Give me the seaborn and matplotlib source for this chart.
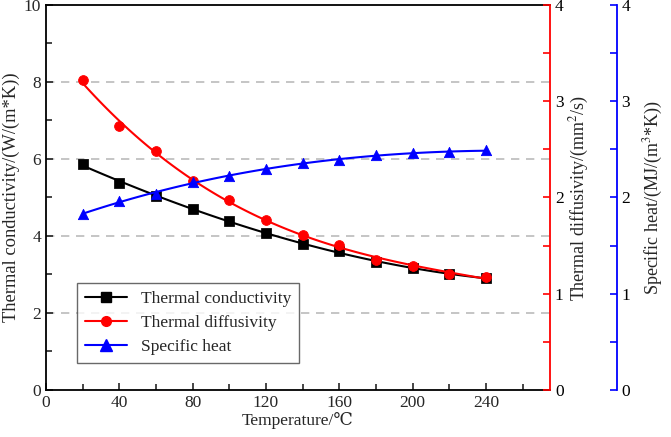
import numpy as np
import pandas as pd
import seaborn as sns
import matplotlib.pyplot as plt
from matplotlib.lines import Line2D
from matplotlib.ticker import MultipleLocator

# Values
temperature = [20, 40, 60, 80, 100, 120, 140, 160, 180, 200, 220, 240]
conductivity = [5.86, 5.38, 5.05, 4.70, 4.38, 4.09, 3.80, 3.60, 3.32, 3.16, 3.00, 2.92]
diffusivity = [3.22, 2.74, 2.48, 2.17, 1.97, 1.77, 1.61, 1.51, 1.35, 1.29, 1.21, 1.17]
specific_heat = [1.83, 1.96, 2.04, 2.16, 2.22, 2.30, 2.36, 2.39, 2.44, 2.46, 2.47, 2.49]

df = pd.DataFrame({
    'temp': temperature,
    'k': conductivity,
    'a': diffusivity,
    'c': specific_heat,
})

FS = 12.5

sns.set_style("ticks")
plt.rcParams['font.family'] = ['Liberation Serif', 'DejaVu Serif']
plt.rcParams['mathtext.fontset'] = 'stix'
plt.rcParams['font.size'] = FS

fig = plt.figure(figsize=(6.71, 4.37), dpi=100)
ax = fig.add_axes([0.0686, 0.1076, 0.7511, 0.881])
ax2 = ax.twinx()
ax3 = ax.twinx()
ax3.spines['right'].set_position(('outward', 48))

# Thermal conductivity (left axis)
sns.regplot(data=df, x='temp', y='k', order=3, ci=None, scatter=False,
            color='black', line_kws={'lw': 1.5}, ax=ax)
sns.scatterplot(data=df, x='temp', y='k', marker='s', s=45, color='black',
                edgecolor='black', ax=ax, zorder=3)

# Thermal diffusivity (red axis)
sns.regplot(data=df, x='temp', y='a', order=3, ci=None, scatter=False,
            color='red', line_kws={'lw': 1.5}, ax=ax2)
sns.scatterplot(data=df, x='temp', y='a', marker='o', s=50, color='red',
                edgecolor='red', ax=ax2, zorder=3)

# Specific heat (blue axis)
sns.regplot(data=df, x='temp', y='c', order=3, ci=None, scatter=False,
            color='blue', line_kws={'lw': 1.5}, ax=ax3)
sns.scatterplot(data=df, x='temp', y='c', marker='^', s=55, color='blue',
                edgecolor='blue', ax=ax3, zorder=3)

ax.set_xlim(0, 275)
ax.set_ylim(0, 10)
ax2.set_ylim(0, 4)
ax3.set_ylim(0, 4)

ax.xaxis.set_major_locator(MultipleLocator(40))
ax.xaxis.set_minor_locator(MultipleLocator(20))
ax.yaxis.set_major_locator(MultipleLocator(2))
ax.yaxis.set_minor_locator(MultipleLocator(1))
for a in (ax2, ax3):
    a.yaxis.set_major_locator(MultipleLocator(1))
    a.yaxis.set_minor_locator(MultipleLocator(0.5))

for y in [2, 4, 6, 8]:
    ax.axhline(y, color='#bbbbbb', ls='--', lw=1.2, dashes=(5, 4), zorder=0)

ax.tick_params(axis='both', which='both', direction='in', labelsize=FS)
ax.tick_params(which='major', length=5, width=1.2)
ax.tick_params(which='minor', length=4, width=1.2)

ax2.tick_params(axis='y', which='both', direction='in', colors='red', labelcolor='black',
                labelsize=FS, length=5, width=1.2)
ax3.tick_params(axis='y', which='both', direction='in', colors='blue', labelcolor='black',
                labelsize=FS, length=5, width=1.2)

for s in ['left', 'bottom', 'top']:
    ax.spines[s].set_color('black')
    ax.spines[s].set_linewidth(1.3)
ax.spines['right'].set_visible(False)
ax2.spines['right'].set_color('red')
ax2.spines['right'].set_linewidth(1.3)
ax3.spines['right'].set_color('blue')
ax3.spines['right'].set_linewidth(1.3)
for a in (ax2, ax3):
    for s in ['left', 'bottom', 'top']:
        a.spines[s].set_visible(False)

ax.set_xlabel('Temperature/\u2103', fontsize=FS, labelpad=1)
ax.set_ylabel('Thermal conductivity/(W/(m*K))', fontsize=13.3, labelpad=3)
ax2.set_ylabel('Thermal diffusivity/(mm$^2$/s)', fontsize=13, labelpad=3)
ax3.set_ylabel('Specific heat/(MJ/(m$^3$*K))', fontsize=13, labelpad=8)

handles = [
    Line2D([], [], color='black', marker='s', markersize=7, lw=1.5),
    Line2D([], [], color='red', marker='o', markersize=7, lw=1.5),
    Line2D([], [], color='blue', marker='^', markersize=8, lw=1.5),
]
leg = ax.legend(handles, ['Thermal conductivity', 'Thermal diffusivity', 'Specific heat'],
                loc='lower left', bbox_to_anchor=(0.045, 0.048), fancybox=False,
                frameon=True, edgecolor='#444444', fontsize=FS, handlelength=2.4,
                borderpad=0.45, labelspacing=0.45)
leg.get_frame().set_linewidth(1.0)

fig.savefig('out.png', dpi=100)
